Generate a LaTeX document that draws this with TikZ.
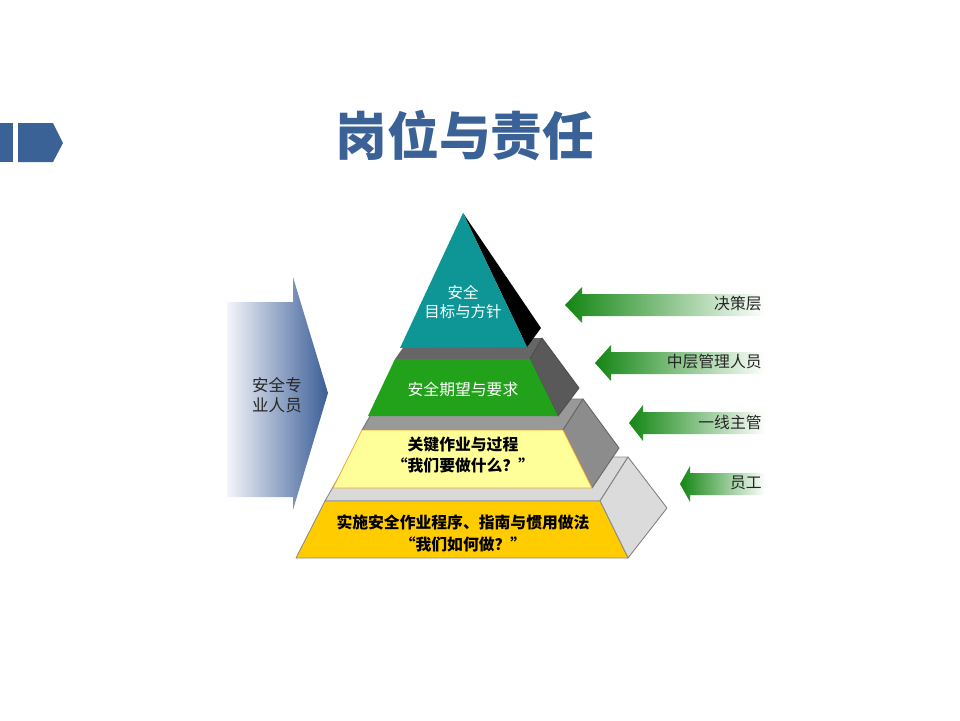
\documentclass[tikz,border=0pt]{standalone}
\usepackage{fontspec}
\newfontfamily\cjk{Noto Sans CJK SC}
\usetikzlibrary{calc}
\definecolor{titblue}{HTML}{3A6296}
\definecolor{arrgreen}{HTML}{138613}
\definecolor{lbluel}{HTML}{F4F5FB}
\definecolor{lblued}{HTML}{3B5E97}
\definecolor{teal1}{HTML}{0E9696}
\definecolor{green2}{HTML}{22A11B}
\definecolor{yellow3}{HTML}{FFFF99}
\definecolor{orange3}{HTML}{F0A53A}
\definecolor{gold4}{HTML}{FFCC00}

\begin{document}
\begin{tikzpicture}[x=0.02cm, y=-0.02cm,
  lab/.style={font=\cjk\fontsize{9}{11}\selectfont, anchor=east, inner sep=0pt, text=black!85},
  ptxt/.style={font=\cjk\fontsize{9}{12.5}\selectfont, align=center, inner sep=0pt},
  edge/.style={line join=round, line width=0.5pt}]
  \useasboundingbox (0,0) rectangle (960,720);
  % 标题
  \fill[titblue] (0,123) rectangle (13,162);
  \fill[titblue] (18,123) -- (53,123) -- (63,143) -- (53,162) -- (18,162) -- cycle;
  \node[text=titblue, font=\cjk\bfseries\fontsize{29.5}{30}\selectfont] (title) at (465,136) {岗位与责任};
  % 左侧箭头
  \shade[left color=lbluel, right color=lblued]
    (227,302) -- (293,302) -- (293,277) -- (328,393) -- (293,510) -- (293,497) -- (227,497) -- cycle;
  \node[ptxt, font=\cjk\fontsize{9.4}{11.3}\selectfont, text=black!85] (aqry) at (277,395) {安全专\\业人员};
  % 右侧箭头
  \foreach \t/\b/\c/\txt/\nm in {565/582/305/决策层/jcc, 595/611/363/中层管理人员/zcgl, 629/643/423/一线主管/yxzg, 680/690/484/员工/yg}{
    \shade[left color=arrgreen, right color=white]
      (\t,\c) -- (\b,\c-18) -- (\b,\c-11) -- (765,\c-11) -- (765,\c+11) -- (\b,\c+11) -- (\b,\c+18) -- cycle;
    \node[lab] (\nm) at (762,\c-1) {\txt};
  }
  % 第四层
  \filldraw[edge, fill=black!15, draw=black!45] (325,501) -- (600,501) -- (628,457) -- (350,457) -- cycle;
  \filldraw[edge, fill=black!14, draw=black!50] (600,501) -- (628,457) -- (667,508) -- (628,558) -- cycle;
  \filldraw[edge, fill=gold4, draw=black!45] (325,501) -- (600,501) -- (628,558) -- (296,558) -- cycle;
  \node[ptxt, font=\cjk\bfseries\fontsize{9}{12.5}\selectfont] (lv4) at (463,533) {实施安全作业程序、指南与惯用做法\\“我们如何做？”};
  % 第三层
  \filldraw[edge, fill=black!40, draw=black!55] (362,430) -- (563,430) -- (583,399) -- (380,399) -- cycle;
  \filldraw[edge, fill=black!45, draw=black!60] (563,430) -- (583,399) -- (619,448) -- (592,488) -- cycle;
  \filldraw[edge, fill=yellow3, draw=orange3] (362,430) -- (563,430) -- (592,488) -- (333,488) -- cycle;
  \node[ptxt, font=\cjk\bfseries\fontsize{9}{12.5}\selectfont] (lv3) at (463,455) {关键作业与过程\\“我们要做什么？”};
  % 第二层
  \fill[black!60] (395,359) -- (530,359) -- (542,338) -- (410,338) -- cycle;
  \filldraw[edge, fill=black!65, draw=black!70] (530,359) -- (542,338) -- (579,388) -- (558,416) -- cycle;
  \fill[green2] (395,359) -- (530,359) -- (558,416) -- (368,416) -- cycle;
  \node[ptxt, text=white] (lv2) at (463,389) {安全期望与要求};
  % 顶层
  \fill[black] (463,213) -- (541,328) -- (527,347) -- cycle;
  \fill[teal1] (463,213) -- (527,347) -- (400,348) -- cycle;
  \node[ptxt, font=\cjk\fontsize{8.8}{10.8}\selectfont, text=white] (lv1) at (463,302) {安全\\目标与方针};
\end{tikzpicture}
\end{document}
